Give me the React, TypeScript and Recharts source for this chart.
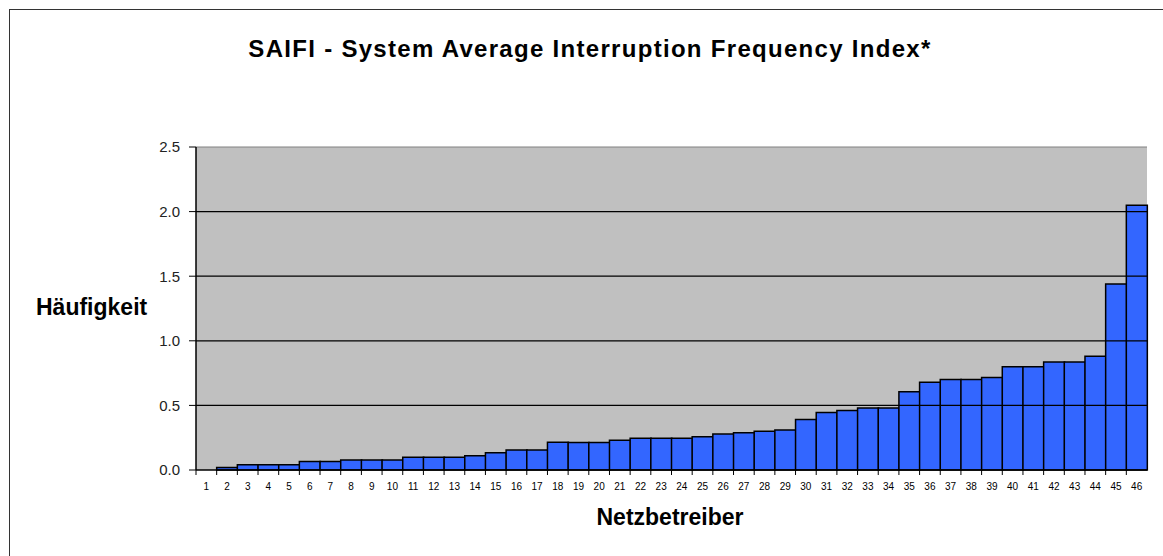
import { BarChart, Bar, XAxis, YAxis, CartesianGrid, ReferenceLine } from "recharts"

const operators = [
    "1", "2", "3", "4", "5", "6", "7", "8", "9", "10",
    "11", "12", "13", "14", "15", "16", "17", "18", "19", "20",
    "21", "22", "23", "24", "25", "26", "27", "28", "29", "30",
    "31", "32", "33", "34", "35", "36", "37", "38", "39", "40",
    "41", "42", "43", "44", "45", "46",
]

const saifi = [
    0.0, 0.02, 0.04, 0.04, 0.04, 0.065, 0.065, 0.077, 0.077, 0.077,
    0.098, 0.098, 0.098, 0.11, 0.134, 0.155, 0.155, 0.214, 0.212, 0.212,
    0.23, 0.245, 0.245, 0.245, 0.257, 0.278, 0.288, 0.30, 0.31, 0.39,
    0.445, 0.46, 0.48, 0.48, 0.605, 0.68, 0.70, 0.70, 0.715, 0.80,
    0.80, 0.835, 0.835, 0.88, 1.44, 2.05,
]

const yTicks = [0, 0.5, 1.0, 1.5, 2.0, 2.5]
const gridLines = [0.5, 1.0, 1.5, 2.0]

const data = operators.map((name, i) => ({ name, value: saifi[i] }))

const font = "'Liberation Sans', Arial, sans-serif"

// Excel-style category tick: mark sits on the boundary, label in the middle
function CategoryTick(props: any) {
    const { x, y, payload } = props
    const half = 951 / operators.length / 2
    return (
        <g>
            <line x1={x - half} y1={y - 8} x2={x - half} y2={y - 3} stroke="#000" />
            <text x={x} y={y + 12} textAnchor="middle" fontSize={10} fontFamily={font} fill="#000">
                {payload.value}
            </text>
        </g>
    )
}

export default function App() {
    return (
        <div style={{ position: "absolute", left: 0, top: 0, width: 1163, height: 556, background: "#fff", overflow: "hidden", fontFamily: font }}>
            <div style={{ position: "absolute", left: 9, top: 9, width: 1200, height: 600, borderLeft: "1.5px solid #333", borderTop: "1.5px solid #333" }} />

            <div style={{ position: "absolute", left: 0, width: 1180, top: 35, textAlign: "center", fontSize: 24, letterSpacing: 1.3, fontWeight: "bold", color: "#000", whiteSpace: "nowrap" }}>
                SAIFI - System Average Interruption Frequency Index*
            </div>
            <div style={{ position: "absolute", left: 36, top: 294, fontSize: 23, fontWeight: "bold", color: "#000" }}>
                Häufigkeit
            </div>
            <div style={{ position: "absolute", left: 0, width: 1340, top: 504, textAlign: "center", fontSize: 23, fontWeight: "bold", color: "#000" }}>
                Netzbetreiber
            </div>

            <BarChart
                width={1163}
                height={556}
                data={data}
                margin={{ top: 147, right: 16, bottom: 56, left: 136 }}
                barCategoryGap={0}
                style={{ position: "absolute", left: 0, top: 0 }}
            >
                <CartesianGrid horizontal={false} vertical={false} fill="#c0c0c0" stroke="#808080" />
                {gridLines.map((v) => (
                    <ReferenceLine key={v} y={v} stroke="#000" strokeWidth={1.2} />
                ))}
                <ReferenceLine y={2.5} stroke="#808080" />
                <XAxis
                    dataKey="name"
                    height={30}
                    interval={0}
                    tickLine={false}
                    axisLine={{ stroke: "#000", strokeWidth: 1.5 }}
                    tick={<CategoryTick />}
                />
                <YAxis
                    width={60}
                    domain={[0, 2.5]}
                    ticks={yTicks}
                    tickFormatter={(v: number) => v.toFixed(1)}
                    tickSize={7}
                    tickMargin={9}
                    tickLine={{ stroke: "#000" }}
                    axisLine={{ stroke: "#000", strokeWidth: 1.5 }}
                    tick={{ fontSize: 15, fill: "#222", fontFamily: font }}
                />
                <Bar dataKey="value" fill="#3366ff" stroke="#000" strokeWidth={1.5} isAnimationActive={false} />
            </BarChart>
        </div>
    )
}
